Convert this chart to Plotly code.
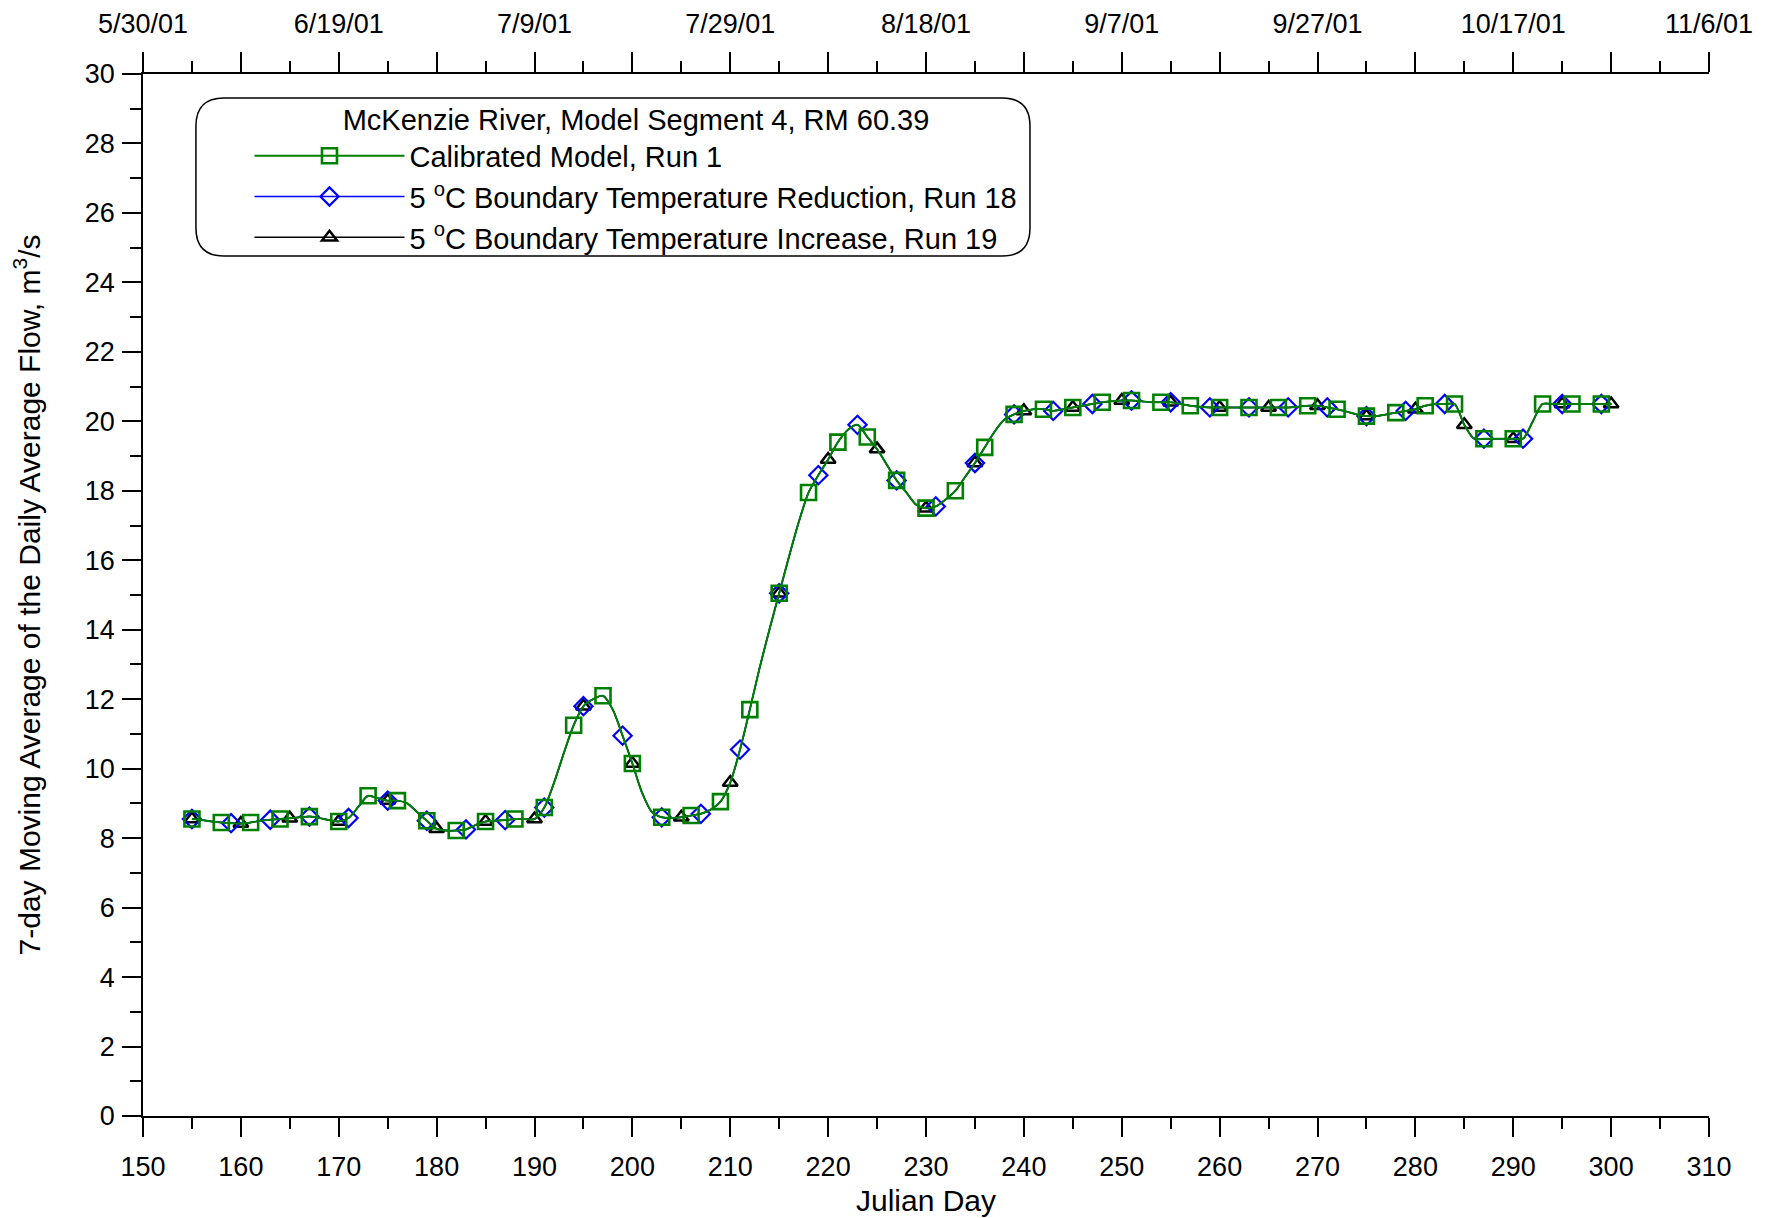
import plotly.graph_objects as go

# ---------------- data ----------------
julian_day = list(range(155, 301))
flow_run1 = [
    8.55, 8.52, 8.48, 8.45, 8.43, 8.42, 8.45, 8.50, 8.53, 8.55,
    8.57, 8.60, 8.62, 8.58, 8.52, 8.48, 8.58, 8.90, 9.22, 9.15,
    9.08, 9.08, 9.00, 8.75, 8.50, 8.27, 8.22, 8.22, 8.25, 8.38,
    8.48, 8.50, 8.52, 8.55, 8.55, 8.55, 8.88, 9.60, 10.45, 11.25,
    11.80, 12.00, 12.10, 11.70, 10.95, 10.15, 9.30, 8.75, 8.60, 8.58,
    8.60, 8.65, 8.70, 8.82, 9.05, 9.60, 10.55, 11.70, 12.90, 14.00,
    15.05, 16.10, 17.10, 17.95, 18.45, 18.90, 19.40, 19.75, 19.90, 19.55,
    19.20, 18.75, 18.30, 17.95, 17.60, 17.50, 17.55, 17.75, 18.00, 18.40,
    18.80, 19.25, 19.70, 20.05, 20.20, 20.30, 20.35, 20.35, 20.30, 20.35,
    20.40, 20.45, 20.50, 20.55, 20.58, 20.60, 20.60, 20.58, 20.55, 20.55,
    20.55, 20.50, 20.45, 20.42, 20.40, 20.40, 20.40, 20.40, 20.40, 20.40,
    20.40, 20.40, 20.40, 20.42, 20.45, 20.45, 20.40, 20.35, 20.28, 20.20,
    20.15, 20.15, 20.20, 20.25, 20.30, 20.35, 20.45, 20.50, 20.50, 20.50,
    19.90, 19.50, 19.50, 19.50, 19.50, 19.50, 19.50, 20.00, 20.50, 20.50,
    20.50, 20.50, 20.50, 20.50, 20.50, 20.50,
]
flow_run18 = list(flow_run1)
flow_run19 = list(flow_run1)

series_names = [
    "Calibrated Model, Run 1",
    "5 <sup>o</sup>C Boundary Temperature Reduction, Run 18",
    "5 <sup>o</sup>C Boundary Temperature Increase, Run 19",
]
legend_title = "McKenzie River, Model Segment 4, RM 60.39"
x_title = "Julian Day"
y_title = "7-day Moving Average of the Daily Average Flow, m<sup>3</sup>/s"
bottom_ticks = list(range(150, 311, 10))
y_ticks = list(range(0, 31, 2))
top_tick_days = list(range(150, 311, 10))
top_tick_labels = ["5/30/01", "", "6/19/01", "", "7/9/01", "", "7/29/01", "",
                   "8/18/01", "", "9/7/01", "", "9/27/01", "", "10/17/01", "", "11/6/01"]

# ---------------- styling ----------------
FONT = "Liberation Sans, Arial, sans-serif"
FS = 27
LFS = 29
TFS = 30

fig = go.Figure()


def add_series(y, name, color, symbol, msize, mlw, step, lwidth, rank):
    # continuous daily curve (no legend)
    fig.add_trace(go.Scatter(
        x=julian_day, y=y, mode="lines", showlegend=False, hoverinfo="skip",
        line=dict(color=color, width=lwidth, shape="spline", smoothing=0.8),
    ))
    # marked days only (isolated points -> markers only, legend shows line+marker)
    ym = [v if (d - julian_day[0]) % step == 0 else None for d, v in zip(julian_day, y)]
    fig.add_trace(go.Scatter(
        x=julian_day, y=ym, mode="lines+markers", name=name, connectgaps=False,
        line=dict(color=color, width=lwidth),
        marker=dict(symbol=symbol, size=msize, color=color,
                    line=dict(color=color, width=mlw)),
        legendrank=rank,
    ))


add_series(flow_run19, series_names[2], "black", "triangle-up-open", 13, 2.5, 5, 1.5, 3)
add_series(flow_run18, series_names[1], "#0000ff", "diamond-open", 14, 2.2, 4, 1.5, 2)
add_series(flow_run1, series_names[0], "#008000", "square-open", 15, 2.6, 3, 2, 1)

# invisible trace to activate the top (date) axis
fig.add_trace(go.Scatter(x=julian_day, y=flow_run1, xaxis="x2", mode="lines",
                         line=dict(color="rgba(0,0,0,0)"), showlegend=False,
                         hoverinfo="skip"))

# rounded legend box (paper coords)
x0, x1, y0, y1 = 0.0338, 0.5664, 0.8253, 0.977
rx, ry = 0.0179, 0.0269
path = (f"M {x0+rx},{y1} L {x1-rx},{y1} Q {x1},{y1} {x1},{y1-ry} "
        f"L {x1},{y0+ry} Q {x1},{y0} {x1-rx},{y0} L {x0+rx},{y0} "
        f"Q {x0},{y0} {x0},{y0+ry} L {x0},{y1-ry} Q {x0},{y1} {x0+rx},{y1} Z")

axis_common = dict(ticks="outside", tickwidth=1.5, tickcolor="black",
                   showline=True, linecolor="black", linewidth=1.5,
                   showgrid=False, zeroline=False, automargin=False)

fig.update_layout(
    width=1766, height=1210,
    margin=dict(l=135, r=65, t=66, b=102),
    paper_bgcolor="white", plot_bgcolor="white",
    font=dict(family=FONT, size=FS, color="black"),
    showlegend=True,
    legend=dict(
        x=0.068, y=0.982, xanchor="left", yanchor="top",
        bgcolor="rgba(0,0,0,0)", borderwidth=0,
        font=dict(family=FONT, size=LFS, color="black"),
        title=dict(text=legend_title, side="top center",
                   font=dict(family=FONT, size=LFS, color="black")),
        itemwidth=150, tracegroupgap=0,
    ),
    shapes=[dict(type="path", path=path, xref="paper", yref="paper",
                 line=dict(color="black", width=1.5), fillcolor="rgba(0,0,0,0)")],
    xaxis=dict(
        range=[150, 310], tickmode="array", tickvals=bottom_ticks,
        ticklen=19, ticklabelstandoff=7,
        minor=dict(dtick=5, tick0=150, ticks="outside", ticklen=11,
                   tickwidth=1.5, tickcolor="black", showgrid=False),
        title=dict(text=x_title, font=dict(family=FONT, size=TFS), standoff=9),
        tickfont=dict(family=FONT, size=FS),
        **axis_common,
    ),
    xaxis2=dict(
        range=[150, 310], overlaying="x", side="top", anchor="y",
        tickmode="array", tickvals=top_tick_days, ticktext=top_tick_labels,
        ticklen=20, ticklabelstandoff=8,
        minor=dict(dtick=5, tick0=150, ticks="outside", ticklen=11,
                   tickwidth=1.5, tickcolor="black", showgrid=False),
        tickfont=dict(family=FONT, size=FS),
        **axis_common,
    ),
    yaxis=dict(
        range=[0, 30], tickmode="array", tickvals=y_ticks,
        ticklen=19, ticklabelstandoff=2,
        minor=dict(dtick=1, tick0=0, ticks="outside", ticklen=11,
                   tickwidth=1.5, tickcolor="black", showgrid=False),
        title=dict(text=y_title, font=dict(family=FONT, size=TFS), standoff=37),
        tickfont=dict(family=FONT, size=FS),
        **axis_common,
    ),
)

fig.write_html("out.html")
